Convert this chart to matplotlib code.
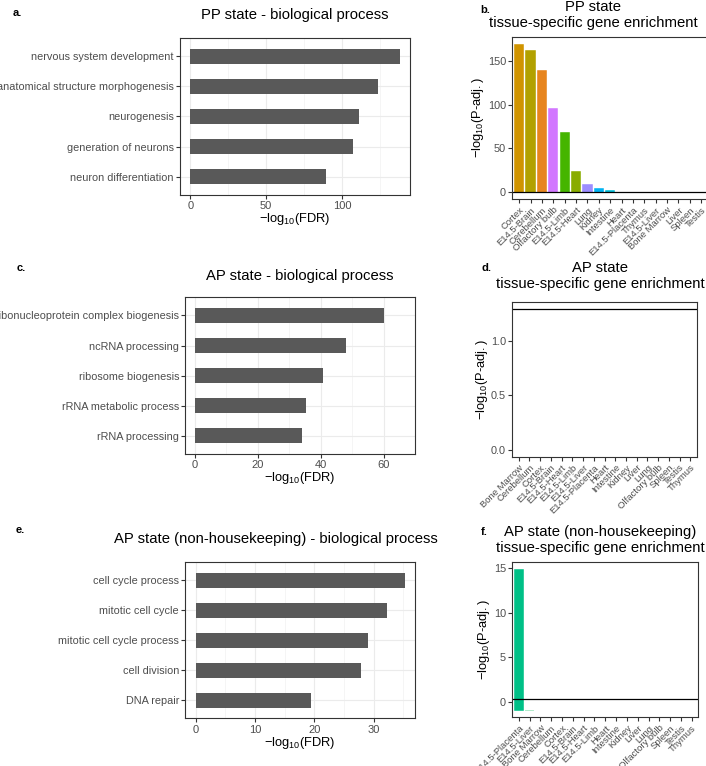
import numpy as np
import matplotlib
matplotlib.use('Agg')
import matplotlib.pyplot as plt

plt.rcParams['font.family'] = ['Liberation Sans', 'DejaVu Sans']
plt.rcParams['mathtext.fontset'] = 'custom'
plt.rcParams['mathtext.rm'] = 'Liberation Sans'
plt.rcParams['mathtext.it'] = 'Liberation Sans'

# GO enrichment bars (left column)
a_terms = ['nervous system development', 'anatomical structure morphogenesis',
           'neurogenesis', 'generation of neurons', 'neuron differentiation']
a_values = [138, 123.5, 111, 107.2, 89.5]

c_terms = ['ribonucleoprotein complex biogenesis', 'ncRNA processing',
           'ribosome biogenesis', 'rRNA metabolic process', 'rRNA processing']
c_values = [60.2, 48.1, 40.8, 35.2, 34.1]

e_terms = ['cell cycle process', 'mitotic cell cycle', 'mitotic cell cycle process',
           'cell division', 'DNA repair']
e_values = [35.2, 32.2, 29.0, 27.8, 19.5]

# tissue enrichment (right column)
tissues = ['Bone Marrow', 'Cerebellum', 'Cortex', 'E14.5-Brain', 'E14.5-Heart',
           'E14.5-Limb', 'E14.5-Liver', 'E14.5-Placenta', 'Heart', 'Intestine',
           'Kidney', 'Liver', 'Lung', 'Olfactory bulb', 'Spleen', 'Testis', 'Thymus']

b_order = ['Cortex', 'E14.5-Brain', 'Cerebellum', 'Olfactory bulb', 'E14.5-Limb',
           'E14.5-Heart', 'Lung', 'Kidney', 'Intestine', 'Heart', 'E14.5-Placenta',
           'Thymus', 'E14.5-Liver', 'Bone Marrow', 'Liver', 'Spleen', 'Testis']
b_values = [170.5, 163, 140.5, 97, 68.5, 24.5, 9.5, 4.2, 2.0, 0, 0, 0, 0,
            np.nan, np.nan, np.nan, np.nan]
b_thresh = 0.3

d_order = tissues
d_values = [np.nan] * 17
d_thresh = 1.3

f_order = ['E14.5-Placenta', 'E14.5-Liver', 'Bone Marrow', 'Cerebellum', 'Cortex',
           'E14.5-Brain', 'E14.5-Heart', 'E14.5-Limb', 'Heart', 'Intestine', 'Kidney',
           'Liver', 'Lung', 'Olfactory bulb', 'Spleen', 'Testis', 'Thymus']
f_values = [14.9, -0.85] + [np.nan] * 15
f_thresh = 0.37
bar_base = -1


def hue_colors(n, l=65, c=100):
    # ggplot2 default hue palette (polar LUV -> sRGB)
    hues = np.linspace(15, 375, n + 1)[:-1]
    Xn, Yn, Zn = 95.047, 100.0, 108.883
    un = 4 * Xn / (Xn + 15 * Yn + 3 * Zn)
    vn = 9 * Yn / (Xn + 15 * Yn + 3 * Zn)
    M = np.array([[3.2404542, -1.5371385, -0.4985314],
                  [-0.9692660, 1.8760108, 0.0415560],
                  [0.0556434, -0.2040259, 1.0572252]])
    out = []
    for h in hues:
        u = c * np.cos(np.radians(h))
        v = c * np.sin(np.radians(h))
        Y = Yn * ((l + 16) / 116) ** 3
        up = u / (13 * l) + un
        vp = v / (13 * l) + vn
        X = 9 * Y * up / (4 * vp)
        Z = -X / 3 - 5 * Y + 3 * Y / vp
        rgb = M @ (np.array([X, Y, Z]) / 100)
        rgb = np.where(rgb <= 0.0031308, 12.92 * rgb, 1.055 * np.clip(rgb, 0, None) ** (1 / 2.4) - 0.055)
        out.append(tuple(np.clip(rgb, 0, 1)))
    return dict(zip(tissues, out))


colors = hue_colors(len(tissues))

W, H = 706, 766
fig = plt.figure(figsize=(W / 100, H / 100), dpi=100)


def add_ax(left, right, top, bottom):
    return fig.add_axes([left / W, 1 - bottom / H, (right - left) / W, (bottom - top) / H])


def style(ax):
    for s in ax.spines.values():
        s.set_color('#333333')
        s.set_linewidth(0.8)
    ax.tick_params(colors='#333333', labelcolor='#4D4D4D', length=3, width=0.8, pad=1.5)


def go_panel(box, terms, values, ticks, title, tx, ty, letter, lx, ly):
    ax = add_ax(*box)
    y = np.arange(len(terms))[::-1]
    ax.barh(y, values, height=0.5, color='#595959', zorder=2)
    ax.set_yticks(y)
    ax.set_yticklabels(terms, fontsize=7.8)
    ax.set_ylim(-0.6, len(terms) - 0.4)
    vmax = max(values)
    ax.set_xlim(-0.05 * vmax, 1.05 * vmax)
    ax.set_xticks(ticks)
    ax.set_xticks([(ticks[i] + ticks[i + 1]) / 2 for i in range(len(ticks) - 1)]
                  + [ticks[-1] + (ticks[1] - ticks[0]) / 2], minor=True)
    ax.grid(True, which='major', color='#EBEBEB', linewidth=0.8, zorder=0)
    ax.grid(True, which='minor', axis='x', color='#F2F2F2', linewidth=0.5, zorder=0)
    ax.set_axisbelow(True)
    ax.set_xlabel(r'$-\mathrm{log}_{10}\mathrm{(FDR)}$', fontsize=9.3, labelpad=0)
    style(ax)
    ax.tick_params(axis='x', labelsize=8)
    ax.tick_params(which='minor', length=0)
    fig.text(tx / W, 1 - ty / H, title, fontsize=10.7, ha='center', va='center')
    fig.text(lx / W, 1 - ly / H, letter, fontsize=8, fontweight='bold', ha='left', va='center')
    return ax


def tissue_panel(box, order, values, thresh, ylim, yticks, ytlabels, title, tx, ty,
                 letter, lx, ly, faded=()):
    ax = add_ax(*box)
    x = np.arange(len(order))
    for i, (name, val) in enumerate(zip(order, values)):
        if np.isnan(val):
            continue
        ax.bar(i, val - bar_base, bottom=bar_base, width=0.9, color=colors[name],
               alpha=0.35 if name in faded else 1.0, edgecolor='white', linewidth=0.3)
    ax.axhline(thresh, color='black', linewidth=0.9)
    ax.set_xlim(-0.6, len(order) - 0.4)
    ax.set_ylim(*ylim)
    ax.set_yticks(yticks)
    ax.set_yticklabels(ytlabels, fontsize=7.8)
    ax.set_xticks(x)
    ax.set_xticklabels(order, rotation=45, ha='right', rotation_mode='anchor', fontsize=6.8)
    ax.set_ylabel(r'$-\mathrm{log}_{10}\mathrm{(P\text{-}adj.)}$', fontsize=9.3, labelpad=1)
    style(ax)
    fig.text(tx / W, 1 - ty / H, title, fontsize=10.7, ha='center', va='center', linespacing=1.15)
    fig.text(lx / W, 1 - ly / H, letter, fontsize=8, fontweight='bold', ha='left', va='center')
    return ax


go_panel((180, 410, 38, 195), a_terms, a_values, [0, 50, 100],
         'PP state - biological process', 295, 15, 'a.', 13, 13)
go_panel((185.3, 415, 297.3, 454), c_terms, c_values, [0, 20, 40, 60],
         'AP state - biological process', 300, 276, 'c.', 17, 268)
go_panel((185.3, 415, 562.3, 718.3), e_terms, e_values, [0, 10, 20, 30],
         'AP state (non-housekeeping) - biological process', 276, 539, 'e.', 16, 530)

axb = tissue_panel((512.3, 708, 36.7, 199.3), b_order, b_values, b_thresh, (-8.5, 178.5),
                   [0, 50, 100, 150], ['0', '50', '100', '150'],
                   'PP state\ntissue-specific gene enrichment', 593, 15, 'b.', 480, 10)
axb.spines['right'].set_visible(False)
tissue_panel((512.3, 696.7, 301.7, 456.7), d_order, d_values, d_thresh, (-0.065, 1.365),
             [0, 0.5, 1.0], ['0.0', '0.5', '1.0'],
             'AP state\ntissue-specific gene enrichment', 600, 276, 'd.', 481, 268)
tissue_panel((512.3, 698.3, 562.3, 717.3), f_order, f_values, f_thresh, (-1.71, 15.64),
             [0, 5, 10, 15], ['0', '5', '10', '15'],
             'AP state (non-housekeeping)\ntissue-specific gene enrichment', 600, 540,
             'f.', 481, 532, faded=('E14.5-Liver',))

fig.savefig('out.png', dpi=100)
